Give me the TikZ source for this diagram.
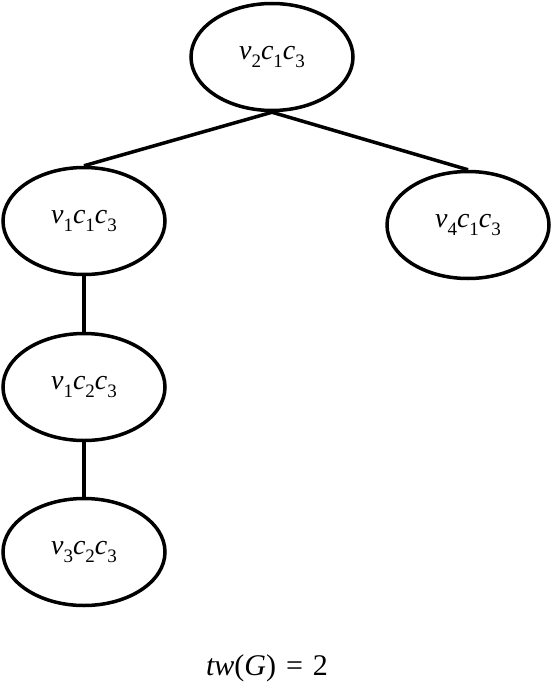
\documentclass[tikz,border=0pt]{standalone}
\usepackage{fontspec}
\setmainfont{Liberation Serif}
\usetikzlibrary{shapes.geometric}
\newcommand{\sbx}[1]{\raisebox{-0.27em}{\fontsize{19}{19}\selectfont #1}}
\newcommand{\lbl}[6]{\textit{#1}\sbx{#2}\textit{#3}\sbx{#4}\textit{#5}\sbx{#6}}
\begin{document}
\begin{tikzpicture}[x=1pt,y=-1pt,
  bag/.style={ellipse,draw,line width=3.5pt,minimum width=162pt,minimum height=107pt,inner sep=0pt,font=\fontsize{28}{32}\selectfont},
  edge/.style={line width=3.5pt}]
\useasboundingbox (0,0) rectangle (552,695);
\node[bag] (t) at (272,57) {\lbl{v}{2}{c}{1}{c}{3}};
\node[bag] (a) at (84,221) {\lbl{v}{1}{c}{1}{c}{3}};
\node[bag] (b) at (468,225) {\lbl{v}{4}{c}{1}{c}{3}};
\node[bag] (c) at (84,387) {\lbl{v}{1}{c}{2}{c}{3}};
\node[bag] (d) at (84,552) {\lbl{v}{3}{c}{2}{c}{3}};
\draw[edge] (t.south) -- (a.north);
\draw[edge] (t.south) -- (b.north);
\draw[edge] (a.south) -- (c.north);
\draw[edge] (c.south) -- (d.north);
\node[font=\fontsize{30}{34}\selectfont] (tw) at (267,668) {\textit{tw}(\textit{G})\,\,=\,\,2};
\end{tikzpicture}
\end{document}
